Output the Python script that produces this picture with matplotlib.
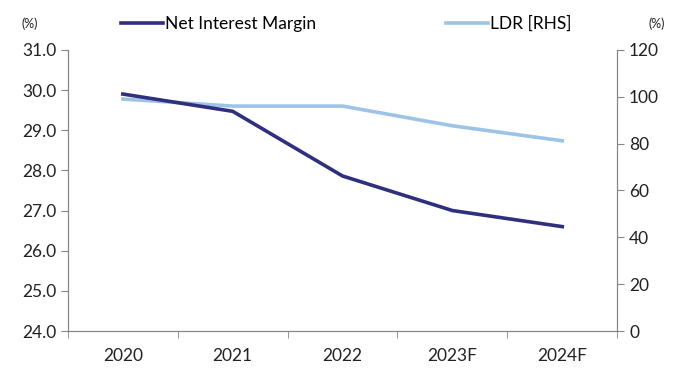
import numpy as np
import matplotlib.pyplot as plt
from matplotlib.lines import Line2D

plt.rcParams['font.family'] = ['Lato', 'DejaVu Sans']

years = ['2020', '2021', '2022', '2023F', '2024F']
nim = [29.9, 29.47, 27.86, 27.0, 26.6]
ldr = [99.0, 96.0, 96.0, 87.6, 81.2]

navy = '#2f2f7e'
light = '#9dc3e6'
grey = '#868686'

fig = plt.figure(figsize=(6.79, 3.72), dpi=100)
ax = fig.add_axes([0.1, 0.11, 0.809, 0.756])
ax2 = ax.twinx()

x = np.arange(len(years))
ax2.plot(x, ldr, color=light, lw=2.6, zorder=2)
ax.plot(x, nim, color=navy, lw=2.6, zorder=3)
ax.set_zorder(ax2.get_zorder() + 1)
ax.patch.set_visible(False)

ax.set_xlim(-0.5, len(years) - 0.5)
ax.set_ylim(24, 31)
ax.set_yticks(np.arange(24, 31.1, 1))
ax.set_yticklabels([f'{v:.1f}' for v in np.arange(24, 31.1, 1)])
ax2.set_ylim(0, 120)
ax2.set_yticks(range(0, 121, 20))

ax.set_xticks(x)
ax.set_xticklabels(years)
ax.set_xticks(np.arange(-0.5, len(years), 1), minor=True)
ax.tick_params(axis='x', which='major', length=0, pad=12)
ax.tick_params(axis='x', which='minor', length=5, color=grey)

for a in (ax, ax2):
    for s in a.spines.values():
        s.set_color(grey)
    a.spines['top'].set_visible(False)
    a.tick_params(axis='y', length=5, color=grey, labelsize=12.5, labelcolor='#222222')
    a.tick_params(axis='x', labelsize=12.5, labelcolor='#222222')

fig.text(0.032, 0.935, '(%)', fontsize=9, color='#222222', ha='left', va='center')
fig.text(0.98, 0.935, '(%)', fontsize=9, color='#222222', ha='right', va='center')

handles = [Line2D([], [], color=navy, lw=2.6), Line2D([], [], color=light, lw=2.6)]
fig.legend(handles, ['Net Interest Margin', 'LDR [RHS]'], loc='center',
           bbox_to_anchor=(0.51, 0.935), ncol=2, frameon=False, fontsize=12.5,
           handlelength=2.4, handletextpad=0.1, columnspacing=7.5)

fig.savefig('out.png', dpi=100)
